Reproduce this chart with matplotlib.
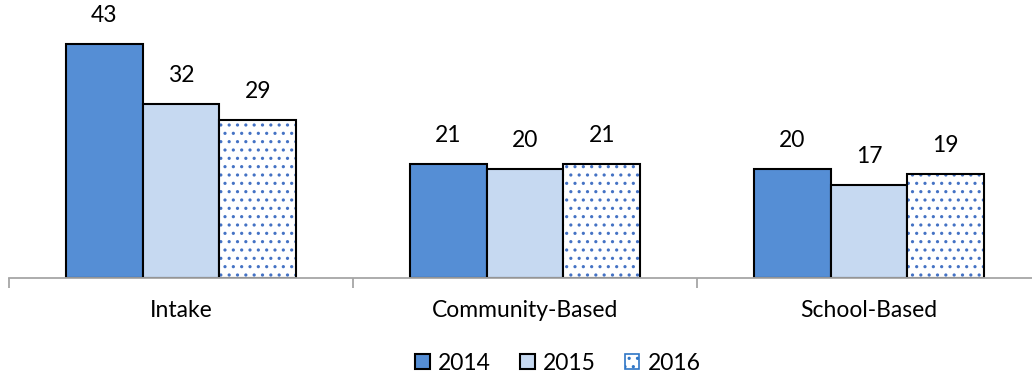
import numpy as np
import matplotlib.pyplot as plt

plt.rcParams['font.family'] = ['Lato', 'DejaVu Sans']
plt.rcParams['hatch.linewidth'] = 1.1

categories = ['Intake', 'Community-Based', 'School-Based']
years = ['2014', '2015', '2016']
v2014 = [43, 21, 20]
v2015 = [32, 20, 17]
v2016 = [29, 21, 19]

fig = plt.figure(figsize=(10.32, 3.77), dpi=100)
ax = fig.add_axes([9 / 1032, 99 / 377, 1023 / 1032, 278 / 377])

x = np.arange(len(categories))
w = 0.223
fs = 16.5

b1 = ax.bar(x - w, v2014, w, color='#558ED5', edgecolor='black', linewidth=1.5)
b2 = ax.bar(x, v2015, w, color='#C6D9F1', edgecolor='black', linewidth=1.5)
# dotted bars: blue dots, black outline drawn on top
ax.bar(x + w, v2016, w, color='white', edgecolor='#4472C4', hatch='..', linewidth=0)
ax.bar(x + w, v2016, w, color='none', edgecolor='black', linewidth=1.5)
b3 = ax.bar([0], [0], 0, color='white', edgecolor='#2E75C6', hatch='..', linewidth=1.2)

for vals, off in [(v2014, -w), (v2015, 0), (v2016, w)]:
    for xi, v in zip(x, vals):
        ax.text(xi + off, v + 3.3, str(v), ha='center', va='bottom', fontsize=fs)

ax.set_xlim(-0.5, -0.5 + 1023 / 344)
ax.set_ylim(0, 51)
ax.set_yticks([])
for s in ['top', 'right', 'left']:
    ax.spines[s].set_visible(False)
ax.spines['bottom'].set_color('#A6A6A6')
ax.spines['bottom'].set_linewidth(1.3)

ax.set_xticks(x)
ax.set_xticklabels(categories, fontsize=fs)
ax.tick_params(axis='x', which='major', length=0, pad=16)
ax.set_xticks([-0.5, 0.5, 1.5], minor=True)
ax.tick_params(axis='x', which='minor', length=7, color='#A6A6A6', width=1.3)

handles = [b1, b2, b3]
fig.legend(handles, years, loc='center', bbox_to_anchor=(558 / 1032, 14 / 377), ncol=3, frameon=False,
           fontsize=fs, handlelength=0.62, handleheight=0.62, handletextpad=0.35, columnspacing=1.3,
           borderpad=0, borderaxespad=0)

fig.savefig('out.png', dpi=100)
